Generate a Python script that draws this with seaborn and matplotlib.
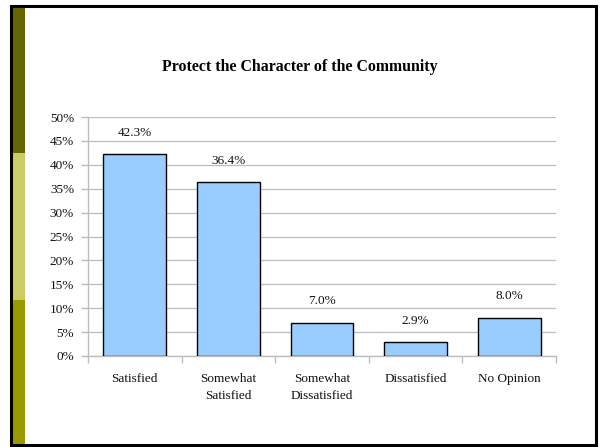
import matplotlib
matplotlib.use("Agg")
import matplotlib.pyplot as plt
import seaborn as sns
import pandas as pd
from matplotlib.patches import Rectangle
from matplotlib.ticker import FuncFormatter, MultipleLocator, FixedLocator

categories = ["Satisfied", "Somewhat\nSatisfied", "Somewhat\nDissatisfied", "Dissatisfied", "No Opinion"]
values = [42.3, 36.4, 7.0, 2.9, 8.0]
title = "Protect the Character of the Community"

sns.set_theme(style="white")
plt.rcParams['font.family'] = ['Liberation Serif', 'DejaVu Serif']

df = pd.DataFrame({"cat": categories, "val": values})

fig = plt.figure(figsize=(6, 4.47), dpi=100)
W, H = 600, 447

def frect(x0, y0, x1, y1, **kw):
    fig.patches.append(Rectangle((x0 / W, 1 - y1 / H), (x1 - x0) / W, (y1 - y0) / H,
                                 transform=fig.transFigure, figure=fig, **kw))

# frame and side stripe
frect(11, 6, 596, 445, facecolor="none", edgecolor="black", linewidth=2.2, zorder=5)
frect(12, 7, 25, 153, facecolor="#666600", edgecolor="none", zorder=1)
frect(12, 153, 25, 300, facecolor="#CCCC66", edgecolor="none", zorder=1)
frect(12, 300, 25, 444, facecolor="#999900", edgecolor="none", zorder=1)

ax = fig.add_axes([88 / W, 1 - 356 / H, (556 - 88) / W, (356 - 117) / H])
ax.set_facecolor("none")
sns.barplot(data=df, x="cat", y="val", color="#99CCFF", edgecolor="black",
            linewidth=1.0, width=0.67, saturation=1, ax=ax, zorder=3)

ax.set_ylim(0, 50)
ax.set_xlim(-0.5, len(categories) - 0.5)
ax.yaxis.set_major_locator(MultipleLocator(5))
ax.yaxis.set_major_formatter(FuncFormatter(lambda v, p: f"{v:.0f}%"))
ax.grid(axis="y", color="#BDBDBD", linewidth=0.9, zorder=0)
ax.set_axisbelow(True)

for s in ["top", "right"]:
    ax.spines[s].set_visible(False)
for s in ["left", "bottom"]:
    ax.spines[s].set_color("#BDBDBD")
    ax.spines[s].set_linewidth(1.0)

FS = 9.5
ax.xaxis.set_minor_locator(FixedLocator([i - 0.5 for i in range(len(categories) + 1)]))
ax.tick_params(axis="x", which="major", length=0, pad=12, labelsize=FS, colors="#111111")
ax.tick_params(axis="x", which="minor", length=5, color="#BDBDBD", width=1.0, bottom=True)
ax.tick_params(axis="y", which="major", length=5, color="#BDBDBD", width=1.0, left=True,
               pad=5, labelsize=FS, labelcolor="#111111")
for lbl in ax.get_xticklabels():
    lbl.set_linespacing(1.6)
ax.set_xlabel("")
ax.set_ylabel("")

ax.bar_label(ax.containers[0], labels=[f"{v:.1f}%" for v in values], padding=11,
             fontsize=FS, color="#111111")

fig.text(0.5, 1 - 67 / H, title, ha="center", va="center", fontsize=11.4,
         fontweight="bold", color="black")

fig.savefig("out.png", dpi=100)
